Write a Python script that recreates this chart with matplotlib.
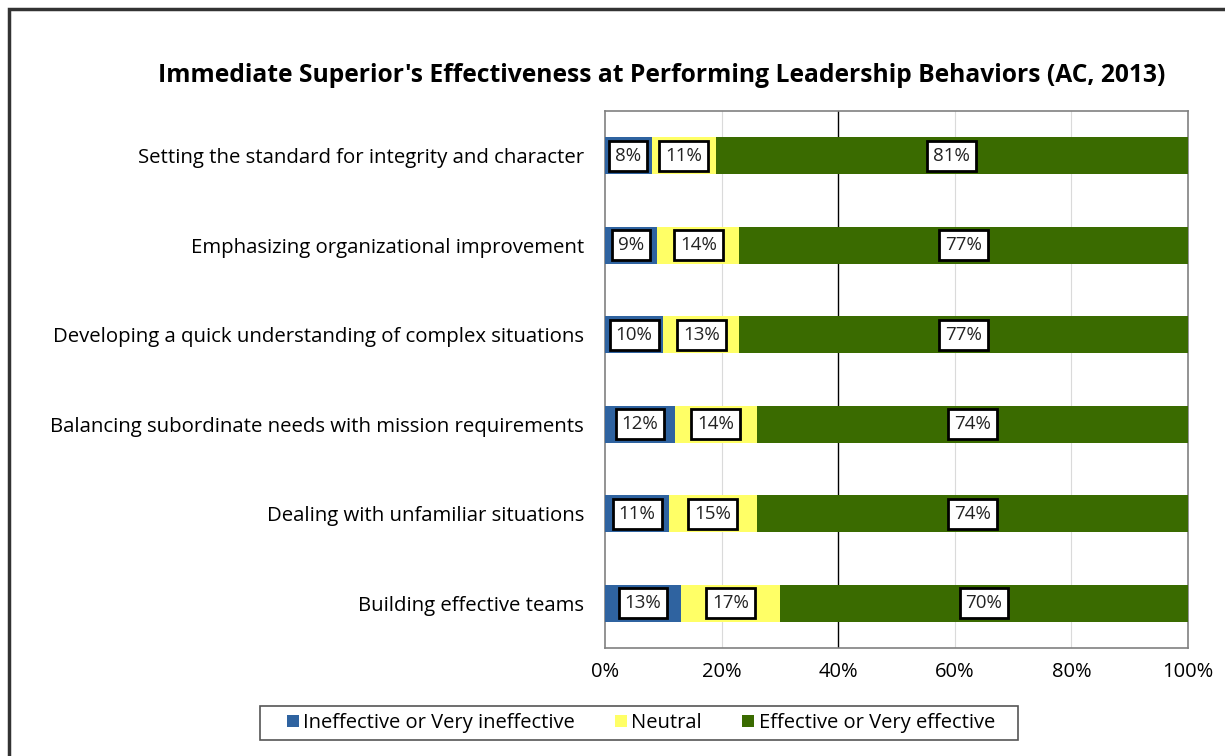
import matplotlib
matplotlib.use("Agg")
import matplotlib.pyplot as plt
from matplotlib.patches import Rectangle
import numpy as np

categories = [
    "Setting the standard for integrity and character",
    "Emphasizing organizational improvement",
    "Developing a quick understanding of complex situations",
    "Balancing subordinate needs with mission requirements",
    "Dealing with unfamiliar situations",
    "Building effective teams",
]
ineffective = [8, 9, 10, 12, 11, 13]
neutral = [11, 14, 13, 14, 15, 17]
effective = [81, 77, 77, 74, 74, 70]
series_names = ["Ineffective or Very ineffective", "Neutral", "Effective or Very effective"]
colors = ["#2F63A0", "#FFFF66", "#3A6B00"]
xticks = [0, 20, 40, 60, 80, 100]
xtick_labels = ["0%", "20%", "40%", "60%", "80%", "100%"]
title = "Immediate Superior's Effectiveness at Performing Leadership Behaviors (AC, 2013)"

plt.rcParams['font.family'] = ['Open Sans', 'DejaVu Sans']

W, H = 1225, 756
fig = plt.figure(figsize=(W / 100, H / 100), dpi=100)
ax = fig.add_axes([605 / W, 1 - 648 / H, (1188 - 605) / W, (648 - 111) / H])

# outer border
fig.patches.append(Rectangle((9 / W, -0.05), 1.1, 1 - 9 / H + 0.05, transform=fig.transFigure,
                             fill=False, edgecolor="#333333", linewidth=2.5))
# legend frame
fig.patches.append(Rectangle((260 / W, 1 - 740 / H), (1018 - 260) / W, 34 / H, transform=fig.transFigure,
                             fill=False, edgecolor="#555555", linewidth=1.2))

y = np.arange(len(categories))
series = [ineffective, neutral, effective]
left = np.zeros(len(categories))
for vals, c, name in zip(series, colors, series_names):
    vals = np.array(vals, dtype=float)
    ax.barh(y, vals, left=left, height=0.41, color=c, label=name, zorder=3)
    for yi, l, v in zip(y, left, vals):
        ax.text(l + v / 2, yi, f"{int(v)}%", ha="center", va="center", fontsize=13.5,
                color="#222222", zorder=5,
                bbox=dict(boxstyle="square,pad=0.32", facecolor="white", edgecolor="black", linewidth=2.0))
    left = left + vals

ax.set_ylim(len(categories) - 0.5, -0.5)
ax.set_xlim(0, 100)
ax.set_yticks(y)
ax.set_yticklabels(categories, fontsize=14.7)
ax.set_xticks(xticks)
ax.set_xticklabels(xtick_labels, fontsize=14.5)
ax.tick_params(axis="y", length=0, pad=15)
ax.tick_params(axis="x", length=0, pad=10)
for x in [20, 60, 80]:
    ax.axvline(x, color="#DADADA", linewidth=0.8, zorder=1)
ax.axvline(40, color="black", linewidth=1.0, zorder=1)
for s in ax.spines.values():
    s.set_color("#808080")
    s.set_linewidth(1.2)

fig.text(662 / W, 1 - 75 / H, title, ha="center", va="center", fontsize=17.7, fontweight="bold")

leg = fig.legend(loc="center", bbox_to_anchor=(641 / W, 1 - 723 / H), ncol=3, frameon=False,
                 fontsize=14.5, handlelength=0.6, handleheight=0.6, handletextpad=0.2,
                 columnspacing=2.0, borderpad=0.35, borderaxespad=0)

fig.savefig("out.png", dpi=100)
